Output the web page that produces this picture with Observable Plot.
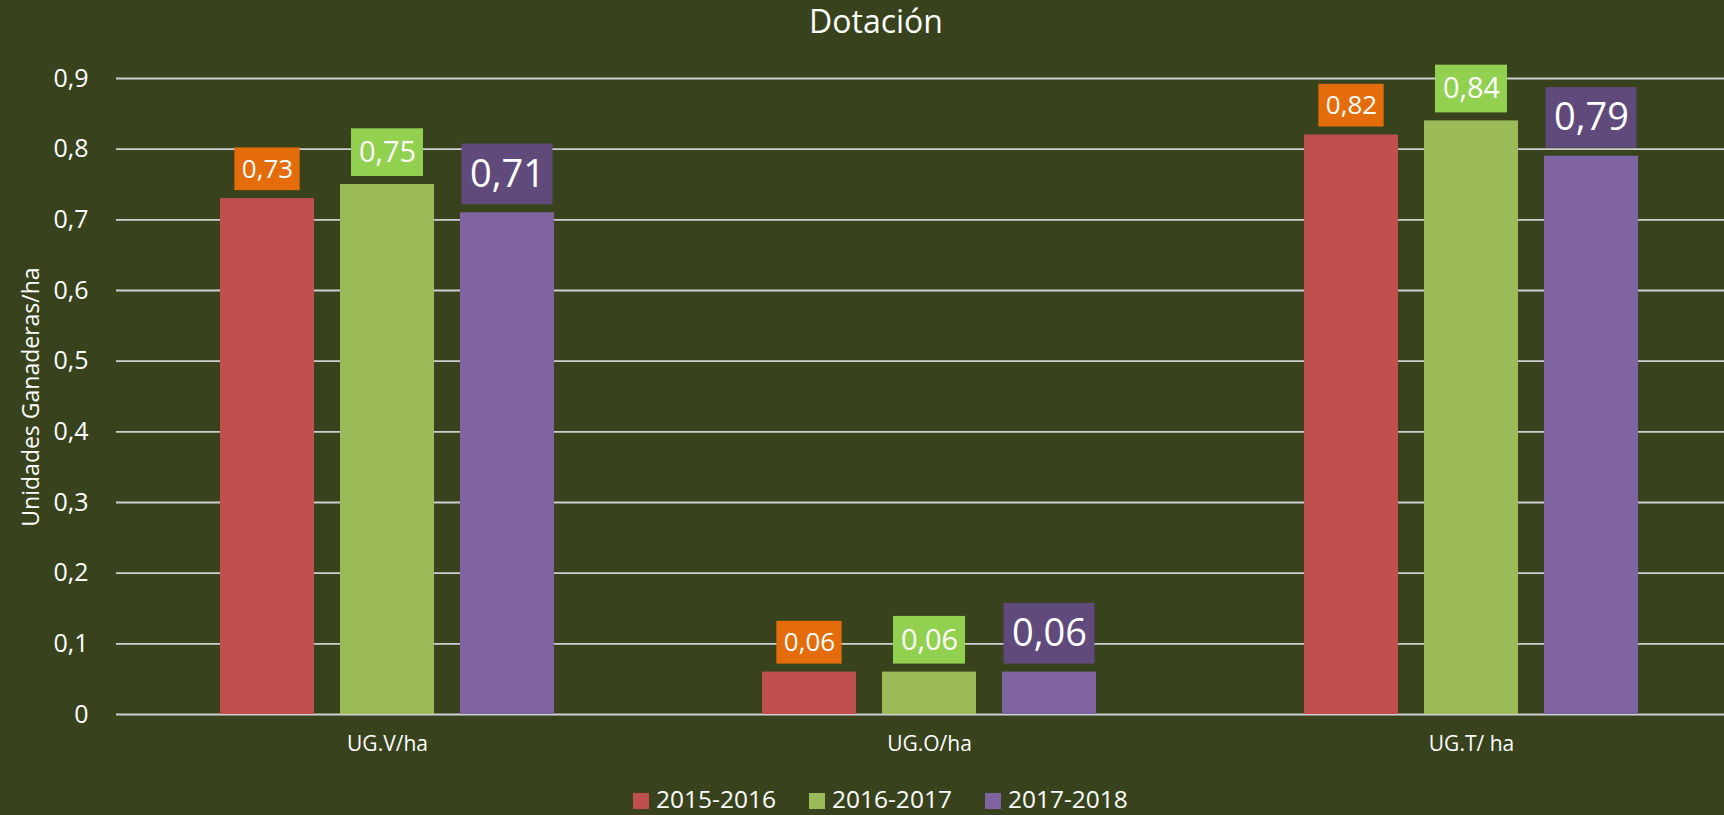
<!DOCTYPE html>
<html>
<head>
<meta charset="utf-8">
<script src="https://cdn.jsdelivr.net/npm/d3@7"></script>
<script src="https://cdn.jsdelivr.net/npm/@observablehq/plot@0.6"></script>
<style>
  html, body { margin: 0; padding: 0; background: #38431e; }
  #chart { position: relative; width: 1724px; height: 815px; overflow: hidden; background: #38431e;
           font-family: "Open Sans", sans-serif; color: #ffffff; }
  #title { position: absolute; left: 876px; top: 5px; transform: translateX(-50%);
           font-size: 32px; line-height: 32px; white-space: nowrap; }
  #plot { position: absolute; left: 0; top: 50px; }
  #ylabel { position: absolute; left: 30px; top: 397px; transform: translate(-50%, -50%) rotate(-90deg);
            font-size: 23px; line-height: 23px; white-space: nowrap; }
  #legend { position: absolute; left: 633px; top: 787px; display: flex; font-size: 24.5px; line-height: 24.5px; }
  .item { display: flex; align-items: flex-start; margin-right: 33px; white-space: nowrap; }
  .sw { width: 16px; height: 16px; margin-top: 6px; margin-right: 7px; }
</style>
</head>
<body>
<div id="chart">
  <div id="title">Dotación</div>
  <div id="ylabel">Unidades Ganaderas/ha</div>
  <div id="plot"></div>
  <div id="legend"></div>
</div>
<script>
// ---- data ----
const categories = ["UG.V/ha", "UG.O/ha", "UG.T/ ha"];
const seasons = ["2015-2016", "2016-2017", "2017-2018"];
const values2015 = [0.73, 0.06, 0.82];
const values2016 = [0.75, 0.06, 0.84];
const values2017 = [0.71, 0.06, 0.79];
const yTicks = [0, 0.1, 0.2, 0.3, 0.4, 0.5, 0.6, 0.7, 0.8, 0.9];

// ---- styles ----
const barColors = ["#c0504d", "#9bbb59", "#8064a2"];
const labelStyles = [
  {fill: "#e46c0a", w: 66, h: 42.7, gap: 8, fontSize: 26},
  {fill: "#92d050", w: 72.7, h: 47.7, gap: 8, fontSize: 29},
  {fill: "#604a7b", w: 91.7, h: 60.7, gap: 8, fontSize: 38}
];
const barWidth = 94.7;

const seriesValues = [values2015, values2016, values2017];
const rows = categories.flatMap((c, i) =>
  seasons.map((s, j) => ({category: c, season: s, value: seriesValues[j][i]})));

const yFmt = d => d === 0 ? "0" : d3.format(".1f")(d).replace(".", ",");
const vFmt = d => d3.format(".2f")(d).replace(".", ",");

const labelMarks = seasons.flatMap((s, j) => {
  const st = labelStyles[j];
  const data = rows.filter(d => d.season === s);
  const side = (barWidth - st.w) / 2;
  return [
    Plot.barY(data, {
      fx: "category", x: "season", y1: "value", y2: "value",
      fill: st.fill, insetTop: -(st.gap + st.h), insetBottom: st.gap,
      insetLeft: side, insetRight: side
    }),
    Plot.text(data, {
      fx: "category", x: "season", y: "value", text: d => vFmt(d.value),
      dy: -(st.gap + st.h / 2), fill: "#ffffff", fontSize: st.fontSize, lineAnchor: "middle"
    })
  ];
});

const chart = Plot.plot({
  width: 1743,
  height: 710,
  marginLeft: 115,
  marginRight: 0,
  marginTop: 28,
  marginBottom: 46,
  style: "max-width:none;background:transparent;color:#ffffff;font-family:'Open Sans',sans-serif;overflow:visible;",
  fx: {domain: categories, padding: 0},
  x: {domain: seasons, paddingInner: 0.2136, paddingOuter: 0.861, axis: null},
  y: {domain: [0, 0.9]},
  color: {domain: seasons, range: barColors},
  marks: [
    Plot.gridY(yTicks, {stroke: "#d0d0d0", strokeOpacity: 1, strokeWidth: 1.8}),
    Plot.axisY(yTicks, {tickSize: 0, tickPadding: 28, fontSize: 25, tickFormat: yFmt, label: null, fill: "#ffffff"}),
    Plot.axisFx({anchor: "bottom", tickSize: 0, tickPadding: 22, fontSize: 21, label: null, fill: "#ffffff"}),
    Plot.barY(rows, {fx: "category", x: "season", y: "value", fill: "season"}),
    ...labelMarks
  ]
});
document.getElementById("plot").appendChild(chart);

// legend
const legend = document.getElementById("legend");
seasons.forEach((s, j) => {
  const item = document.createElement("div");
  item.className = "item";
  const sw = document.createElement("div");
  sw.className = "sw";
  sw.style.background = barColors[j];
  const t = document.createElement("span");
  t.textContent = s;
  item.appendChild(sw);
  item.appendChild(t);
  legend.appendChild(item);
});
</script>
</body>
</html>
